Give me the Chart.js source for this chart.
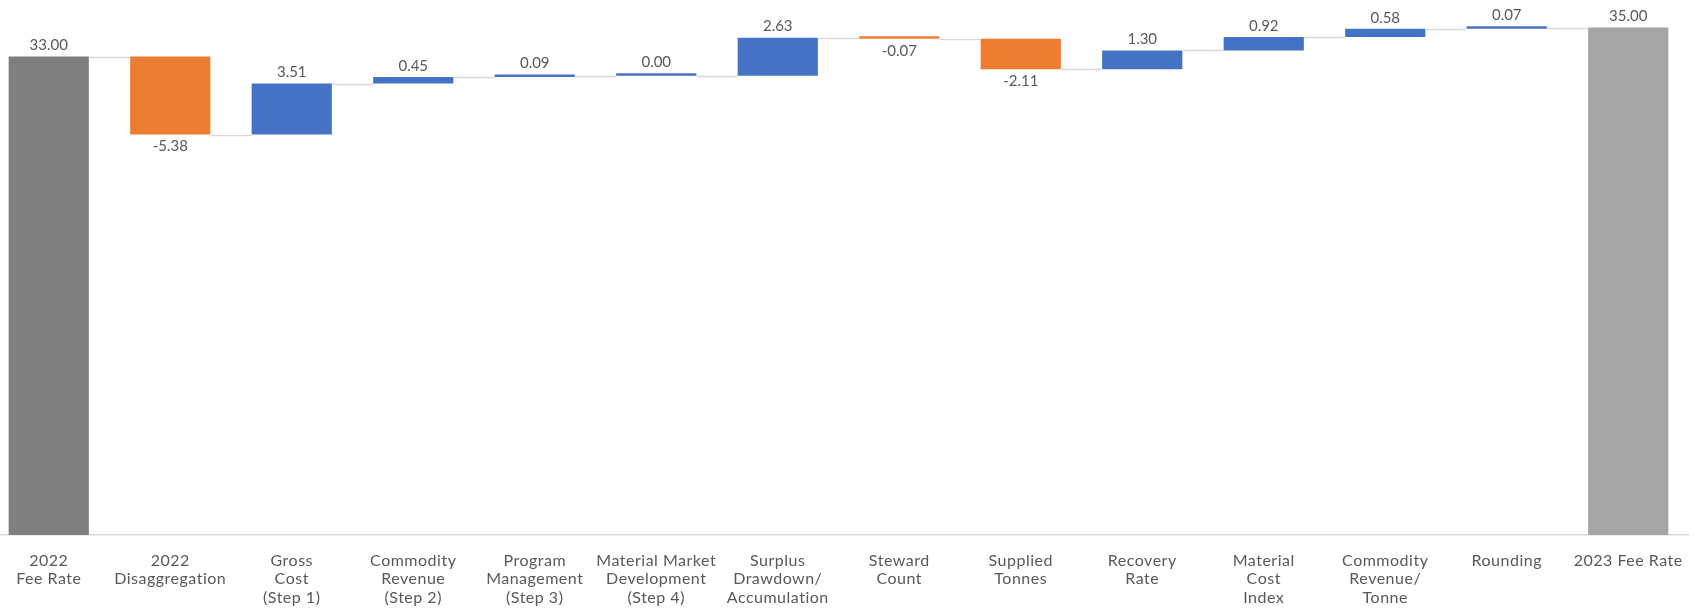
<!DOCTYPE html>
<html>
<head>
<meta charset="utf-8">
<script src="https://cdn.jsdelivr.net/npm/chart.js@4"></script>
<style>
  html, body { margin: 0; padding: 0; background: #fff; overflow: hidden; }
  #wrap { position: absolute; left: -12px; top: 0; width: 1701px; height: 610px; }
</style>
</head>
<body>
<div id="wrap"><canvas id="chartFee"></canvas></div>
<script>
// Waterfall: 2022 -> 2023 fee rate
var categories = [
    ['2022', 'Fee Rate'],
    ['2022', 'Disaggregation'],
    ['Gross', 'Cost', '(Step 1)'],
    ['Commodity', 'Revenue', '(Step 2)'],
    ['Program', 'Management', '(Step 3)'],
    ['Material Market', 'Development', '(Step 4)'],
    ['Surplus', 'Drawdown/', 'Accumulation'],
    ['Steward', 'Count'],
    ['Supplied', 'Tonnes'],
    ['Recovery', 'Rate'],
    ['Material', 'Cost', 'Index'],
    ['Commodity', 'Revenue/', 'Tonne'],
    ['Rounding'],
    ['2023 Fee Rate']
];
var changes = [33.00, -5.38, 3.51, 0.45, 0.09, 0.00, 2.63, -0.07, -2.11, 1.30, 0.92, 0.58, 0.07, 35.00];
var kinds = ['total', 'delta', 'delta', 'delta', 'delta', 'delta', 'delta', 'delta', 'delta', 'delta', 'delta', 'delta', 'delta', 'total'];

var colors = { first: '#7f7f7f', last: '#a5a5a5', up: '#4472c4', down: '#ed7d31' };

// floating bars [start, end]
var floats = [];
var running = 0;
changes.forEach(function(v, i) {
    if (kinds[i] === 'total') {
        floats.push([0, v]);
        running = v;
    } else {
        floats.push([running, running + v]);
        running = running + v;
    }
});

var barColors = changes.map(function(v, i) {
    if (kinds[i] === 'total') return i === 0 ? colors.first : colors.last;
    return v < 0 ? colors.down : colors.up;
});

// Calibri-like spacing for the axis labels
var spacedTicks = {
    id: 'spacedTicks',
    beforeLayout: function(chart) { chart.ctx.letterSpacing = '0.5px'; },
    beforeDraw: function(chart) { chart.ctx.letterSpacing = '0.5px'; },
    afterDraw: function(chart) { chart.ctx.letterSpacing = '0px'; },
};

var waterfallExtras = {
    id: 'waterfallExtras',
    afterDatasetsDraw: function(chart) {
        var ctx = chart.ctx;
        var meta = chart.getDatasetMeta(0);
        var y = chart.scales.y;
        ctx.save();
        ctx.letterSpacing = '0px';
        // connectors
        ctx.strokeStyle = '#d9d9d9';
        ctx.lineWidth = 1.5;
        for (var i = 0; i < meta.data.length - 1; i++) {
            var a = meta.data[i], b = meta.data[i + 1];
            var py = Math.round(y.getPixelForValue(floats[i][1])) + 0.5;
            ctx.beginPath();
            ctx.moveTo(a.x + a.width / 2, py);
            ctx.lineTo(b.x - b.width / 2, py);
            ctx.stroke();
        }
        // value labels
        ctx.fillStyle = '#595959';
        ctx.font = '15px Lato, "Liberation Sans", sans-serif';
        ctx.textAlign = 'center';
        ctx.textBaseline = 'middle';
        meta.data.forEach(function(bar, i) {
            var top = Math.min(bar.y, bar.base);
            var bottom = Math.max(bar.y, bar.base);
            var txt = changes[i].toFixed(2);
            if (changes[i] < 0) {
                ctx.fillText(txt, bar.x, bottom + 12);
            } else {
                ctx.fillText(txt, bar.x, top - 11);
            }
        });
        ctx.restore();
    }
};

new Chart(document.getElementById('chartFee'), {
    type: 'bar',
    data: {
        labels: categories,
        datasets: [{
            data: floats,
            backgroundColor: barColors,
            categoryPercentage: 1,
            barPercentage: 0.66,
            minBarLength: 2.5,
        }],
    },
    options: {
        responsive: true,
        maintainAspectRatio: false,
        animation: false,
        layout: { padding: { top: 13, left: 0, right: 0, bottom: 0 } },
        plugins: { legend: { display: false }, tooltip: { enabled: false } },
        scales: {
            x: {
                grid: { display: false, drawTicks: false },
                border: { display: true, color: '#d9d9d9', width: 1.5 },
                ticks: {
                    color: '#595959',
                    padding: 16,
                    autoSkip: false,
                    maxRotation: 0,
                    font: { family: 'Lato, "Liberation Sans", sans-serif', size: 16, lineHeight: 1.17 },
                },
                afterFit: function(scale) {
                    scale.height = 75;
                    scale.paddingLeft = 0;
                    scale.paddingRight = 0;
                },
            },
            y: {
                display: false,
                min: 0,
                max: 36,
            },
        },
    },
    plugins: [spacedTicks, waterfallExtras],
});
</script>
</body>
</html>
